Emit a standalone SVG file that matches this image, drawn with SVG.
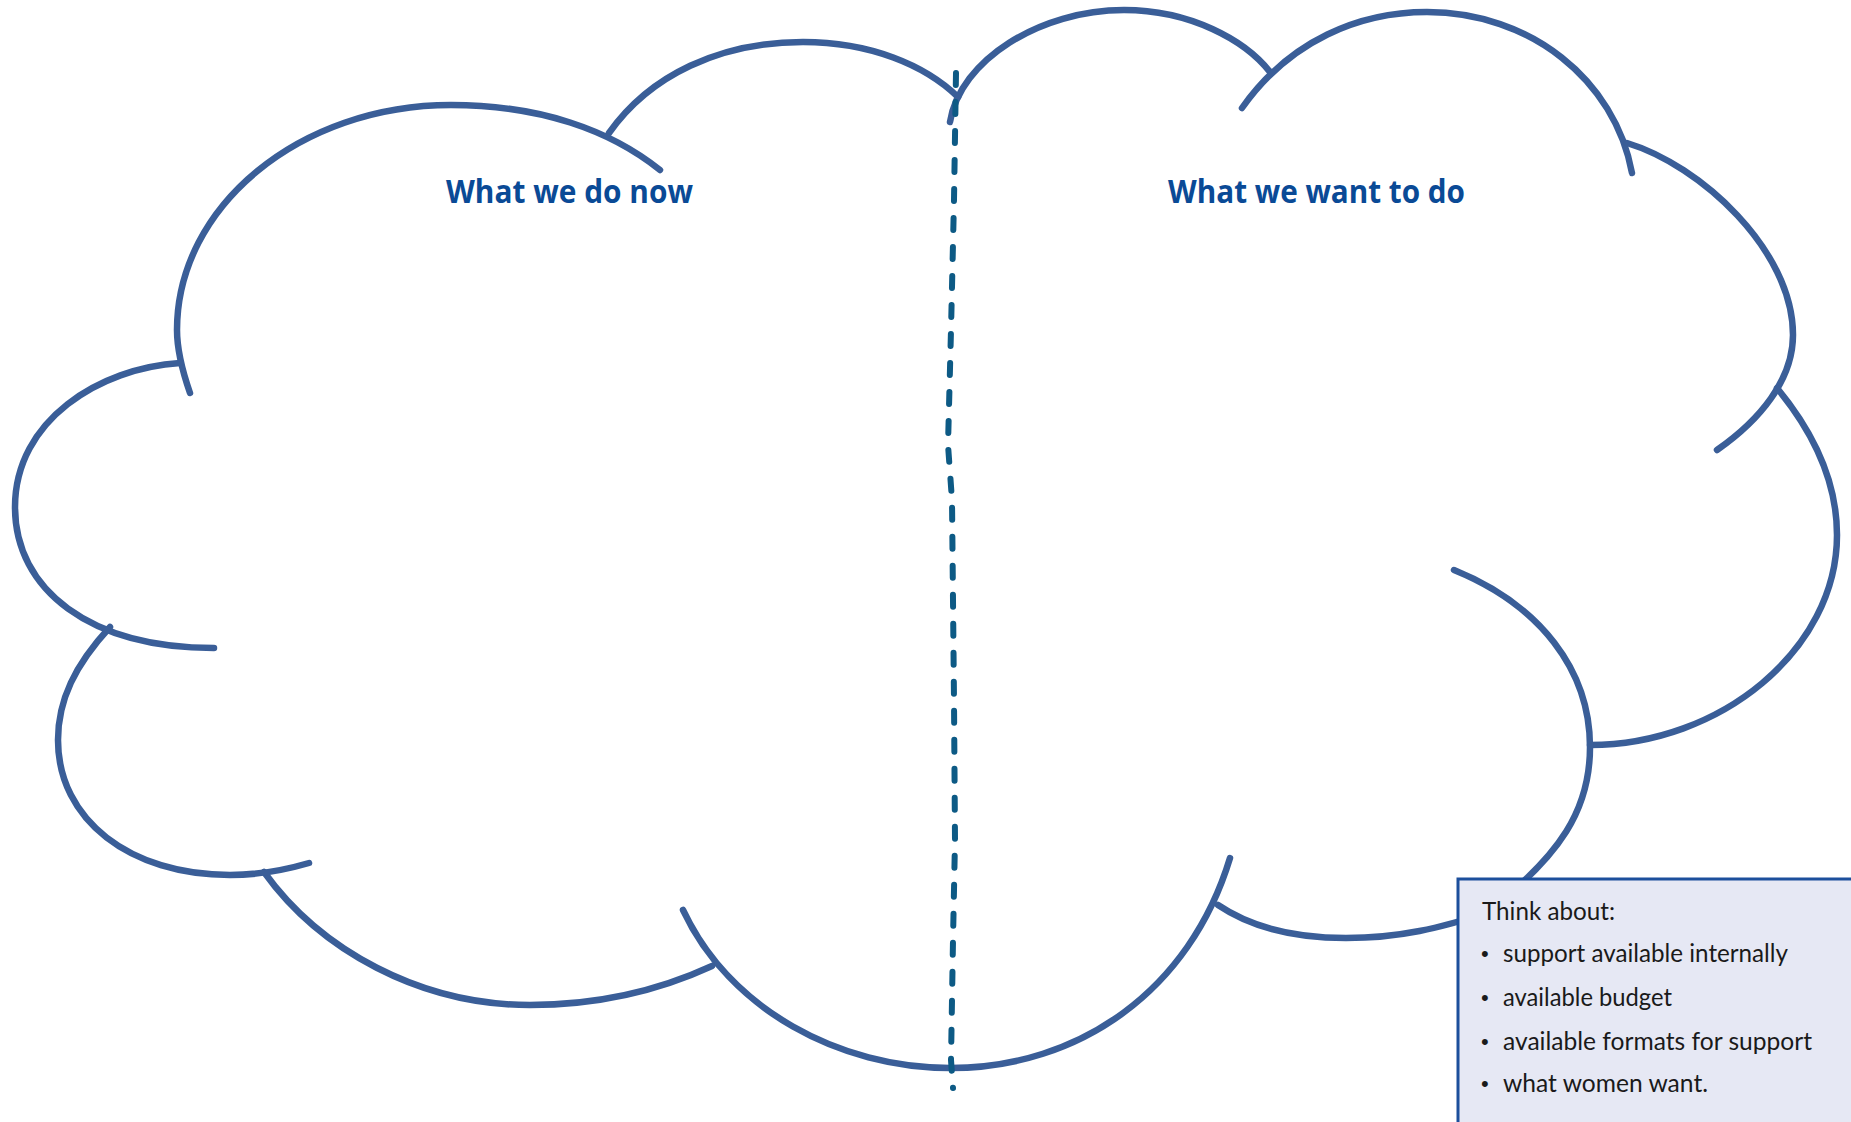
<svg xmlns="http://www.w3.org/2000/svg" width="1851" height="1122" viewBox="0 0 1851 1122">
<style>
.lobe{fill:none;stroke:#3a5e98;stroke-width:6.5;stroke-linecap:round;stroke-linejoin:round}
.title{font-family:"Open Sans","Liberation Sans",sans-serif;font-weight:700;font-size:32px;fill:#0a4a96}
.note{font-family:"Lato","Liberation Sans",sans-serif;font-size:25px;fill:#1a1a1a}
.bullet{font-family:"Liberation Sans",sans-serif;font-size:22px;fill:#1a1a1a}
.divider{fill:none;stroke:#0d5a85;stroke-width:6;stroke-linecap:round;stroke-dasharray:12 17}
</style>
<rect x="0" y="0" width="1851" height="1122" fill="#ffffff"/>
<g id="cloud">
<path class="lobe" d="M190,393 C182,370 177,350 177,330 C177,206 300,105 451,105 C540,105 610,130 660,170"/>
<path class="lobe" d="M609,133 C650,75 720,42 803,42 C870,42 925,65 958,97"/>
<path class="lobe" d="M950,122 C960,60 1040,10 1124,10 C1190,10 1245,40 1270,72"/>
<path class="lobe" d="M1242,108 C1290,40 1360,12 1427,12 C1530,12 1615,80 1632,173"/>
<path class="lobe" d="M1627,143 C1700,165 1793,250 1793,335 C1793,380 1760,420 1717,450"/>
<path class="lobe" d="M1777,388 C1820,440 1837,490 1837,535 C1837,650 1720,745 1590,745"/>
<path class="lobe" d="M1454,570 C1540,605 1590,670 1590,747 C1590,810 1560,855 1490,910"/>
<path class="lobe" d="M1218,905 C1255,930 1300,938 1346,938 C1400,938 1440,928 1490,912"/>
<path class="lobe" d="M683,910 C730,1010 840,1068 950,1068 C1080,1068 1190,990 1230,858"/>
<path class="lobe" d="M264,872 C320,950 420,1005 530,1005 C600,1005 660,990 712,966"/>
<path class="lobe" d="M110,627 C75,665 58,700 58,740 C58,820 130,875 230,875 C260,875 285,870 309,863"/>
<path class="lobe" d="M180,363 C100,368 15,420 15,507 C15,590 90,648 214,648"/>
</g>
<g id="connectors">
<path id="divider" class="divider" d="M956,73 L954,200 L951,330 L948,445 L952,500 L954,700 L955,840 L953,940 L951,1060 L953,1088"/>
</g>
<g id="title-now">
<text class="title" x="446" y="203" textLength="247" lengthAdjust="spacingAndGlyphs">What we do now</text>
</g>
<g id="title-want">
<text class="title" x="1168" y="203" textLength="297" lengthAdjust="spacingAndGlyphs">What we want to do</text>
</g>
<g id="think-about">
<rect x="1458" y="879" width="400" height="260" fill="#e6e8f4" stroke="#1c4f9c" stroke-width="3"/>
<text class="note" x="1482" y="920" textLength="133" lengthAdjust="spacingAndGlyphs">Think about:</text>
<text class="bullet" x="1481" y="961">•</text>
<text class="note" x="1503" y="962" textLength="285" lengthAdjust="spacingAndGlyphs">support available internally</text>
<text class="bullet" x="1481" y="1005">•</text>
<text class="note" x="1503" y="1006" textLength="169" lengthAdjust="spacingAndGlyphs">available budget</text>
<text class="bullet" x="1481" y="1049">•</text>
<text class="note" x="1503" y="1050" textLength="309" lengthAdjust="spacingAndGlyphs">available formats for support</text>
<text class="bullet" x="1481" y="1091">•</text>
<text class="note" x="1503" y="1092" textLength="205" lengthAdjust="spacingAndGlyphs">what women want.</text>
</g>
</svg>
